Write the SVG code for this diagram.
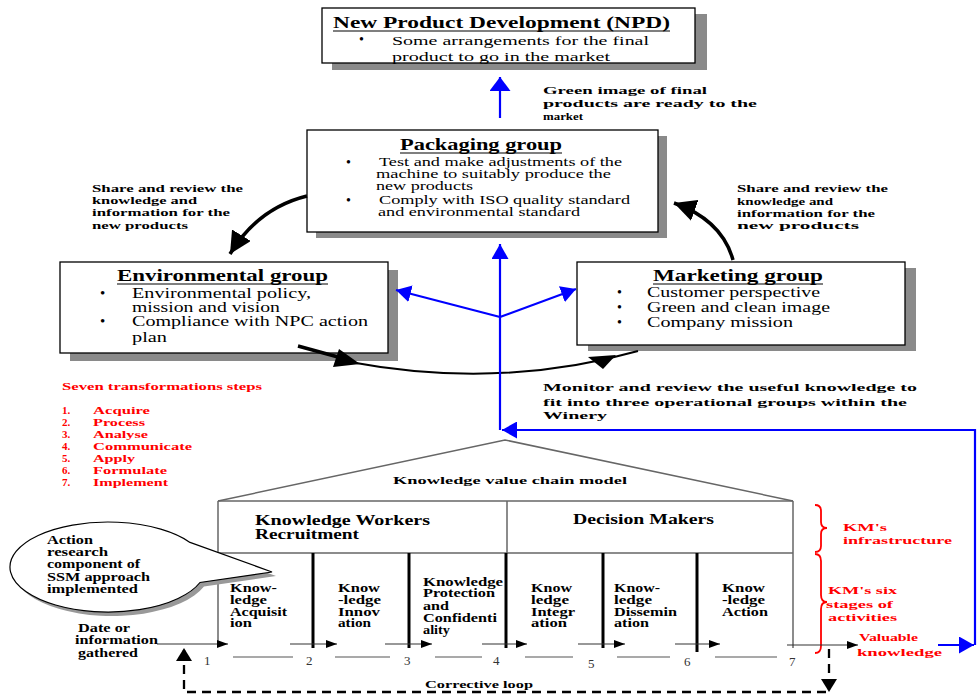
<svg xmlns="http://www.w3.org/2000/svg" width="979" height="695" viewBox="0 0 979 695">
  <style>
    text { font-family: "Liberation Serif", Tinos, "Times New Roman", serif; fill: #000; }
    .b { font-weight: bold; }
    .red { fill: #ff0000; }
    .num { font-size: 13px; fill: #333; }
    .box { fill: #fff; stroke: #000; stroke-width: 1.3; }
    .shadow { fill: #8a8a8a; }
    .title { font-size: 16px; font-weight: bold; }
    .ul { stroke: #000; stroke-width: 1.2; }
    .note { font-size: 11px; font-weight: bold; }
    .stage { font-size: 11.5px; font-weight: bold; }
    .body { font-size: 12px; }
    .blue { stroke: #0000ff; stroke-width: 2.2; fill: none; }
    .curve { stroke: #000; fill: none; }
    .frame { stroke: #666; stroke-width: 1.5; fill: none; }
    .div { stroke: #000; stroke-width: 3; }
    .flow { stroke: #333; stroke-width: 1.2; fill: none; }
    .tick { stroke: #555; stroke-width: 1.2; }
    .dash { stroke: #000; stroke-width: 2.3; stroke-dasharray: 9 6; fill: none; }
    .brace { stroke: #ff0000; stroke-width: 1.8; fill: none; }
  </style>
  <defs>
    <marker id="ab" markerUnits="userSpaceOnUse" markerWidth="15" markerHeight="17" refX="15" refY="8.5" orient="auto">
      <path d="M0,0 L15,8.5 L0,17 z" fill="#0000ff"/>
    </marker>
    <marker id="abw" markerUnits="userSpaceOnUse" markerWidth="14" markerHeight="21" refX="14" refY="10.5" orient="auto">
      <path d="M0,0 L14,10.5 L0,21 z" fill="#0000ff"/>
    </marker>
    <marker id="ak" markerUnits="userSpaceOnUse" markerWidth="22" markerHeight="22" refX="22" refY="11" orient="auto">
      <path d="M0,0 L22,11 L0,22 z" fill="#000"/>
    </marker>
    <marker id="as" markerUnits="userSpaceOnUse" markerWidth="11" markerHeight="8" refX="11" refY="4" orient="auto">
      <path d="M0,0 L11,4 L0,8 z" fill="#000"/>
    </marker>
    <marker id="ad" markerUnits="userSpaceOnUse" markerWidth="13" markerHeight="16" refX="13" refY="8" orient="auto">
      <path d="M0,0 L13,8 L0,16 z" fill="#000"/>
    </marker>
  </defs>

  <rect width="979" height="695" fill="#fff"/>

  <!-- New Product Development -->
  <g id="npd">
    <rect class="shadow" x="332" y="14" width="375" height="56"/>
    <rect class="box" x="322" y="8" width="373" height="55"/>
    <text class="title" x="333" y="28" textLength="337" lengthAdjust="spacingAndGlyphs">New Product Development (NPD)</text>
    <line class="ul" x1="333" y1="31" x2="670" y2="31"/>
    <text x="359" y="44" font-size="14">•</text>
    <text x="392" y="45" font-size="13" textLength="257" lengthAdjust="spacingAndGlyphs">Some arrangements for the final</text>
    <text x="392" y="61" font-size="13" textLength="218" lengthAdjust="spacingAndGlyphs">product to go in the market</text>
  </g>

  <!-- Packaging group -->
  <g id="packaging">
    <rect class="shadow" x="316" y="136" width="351" height="102"/>
    <rect class="box" x="307" y="130" width="351" height="102"/>
    <text class="title" x="400" y="150" textLength="162" lengthAdjust="spacingAndGlyphs">Packaging group</text>
    <line class="ul" x1="400" y1="153" x2="562" y2="153"/>
    <text x="346" y="167" font-size="14">•</text>
    <text class="body" x="379" y="166" textLength="243" lengthAdjust="spacingAndGlyphs">Test and make adjustments of the</text>
    <text class="body" x="376" y="178" textLength="235" lengthAdjust="spacingAndGlyphs">machine to suitably produce the</text>
    <text class="body" x="376" y="190" textLength="97" lengthAdjust="spacingAndGlyphs">new products</text>
    <text x="346" y="205" font-size="14">•</text>
    <text class="body" x="379" y="204" textLength="251" lengthAdjust="spacingAndGlyphs">Comply with ISO quality standard</text>
    <text class="body" x="378" y="216" textLength="202" lengthAdjust="spacingAndGlyphs">and environmental standard</text>
  </g>

  <!-- Environmental group -->
  <g id="environmental">
    <rect class="shadow" x="70" y="270" width="328" height="91"/>
    <rect class="box" x="60" y="262" width="328" height="91"/>
    <text class="title" x="117" y="281" textLength="211" lengthAdjust="spacingAndGlyphs">Environmental group</text>
    <line class="ul" x1="117" y1="284" x2="328" y2="284"/>
    <text x="100" y="298" font-size="15">•</text>
    <text x="132" y="298" font-size="15" textLength="179" lengthAdjust="spacingAndGlyphs">Environmental policy,</text>
    <text x="132" y="312" font-size="15" textLength="148" lengthAdjust="spacingAndGlyphs">mission and vision</text>
    <text x="100" y="326" font-size="15">•</text>
    <text x="132" y="326" font-size="15" textLength="236" lengthAdjust="spacingAndGlyphs">Compliance with NPC action</text>
    <text x="132" y="342" font-size="15" textLength="35" lengthAdjust="spacingAndGlyphs">plan</text>
  </g>

  <!-- Marketing group -->
  <g id="marketing">
    <rect class="shadow" x="588" y="268" width="328" height="83"/>
    <rect class="box" x="577" y="262" width="328" height="83"/>
    <text class="title" x="653" y="281" textLength="170" lengthAdjust="spacingAndGlyphs">Marketing group</text>
    <line class="ul" x1="653" y1="284" x2="823" y2="284"/>
    <text x="617" y="297" font-size="14">•</text>
    <text x="647" y="297" font-size="14.5" textLength="173" lengthAdjust="spacingAndGlyphs">Customer perspective</text>
    <text x="617" y="312" font-size="14">•</text>
    <text x="647" y="312" font-size="14.5" textLength="183" lengthAdjust="spacingAndGlyphs">Green and clean image</text>
    <text x="617" y="327" font-size="14">•</text>
    <text x="647" y="327" font-size="14.5" textLength="146" lengthAdjust="spacingAndGlyphs">Company mission</text>
  </g>

  <!-- Annotations around the group cycle -->
  <g id="cycle-notes">
    <text class="note" x="543" y="94" font-size="12.5" textLength="164" lengthAdjust="spacingAndGlyphs">Green image of final</text>
    <text class="note" x="543" y="107" font-size="12.5" textLength="214" lengthAdjust="spacingAndGlyphs">products are ready to the</text>
    <text class="note" x="543" y="120" font-size="12.5" textLength="40" lengthAdjust="spacingAndGlyphs">market</text>

    <text class="note" x="92" y="192" textLength="151" lengthAdjust="spacingAndGlyphs">Share and review the</text>
    <text class="note" x="92" y="204" textLength="105" lengthAdjust="spacingAndGlyphs">knowledge and</text>
    <text class="note" x="92" y="216" textLength="138" lengthAdjust="spacingAndGlyphs">information for the</text>
    <text class="note" x="92" y="229" textLength="96" lengthAdjust="spacingAndGlyphs">new products</text>

    <text class="note" x="737" y="192" textLength="151" lengthAdjust="spacingAndGlyphs">Share and review the</text>
    <text class="note" x="737" y="205" textLength="96" lengthAdjust="spacingAndGlyphs">knowledge and</text>
    <text class="note" x="737" y="217" textLength="138" lengthAdjust="spacingAndGlyphs">information for the</text>
    <text class="note" x="737" y="229" textLength="122" lengthAdjust="spacingAndGlyphs">new products</text>

    <text class="note" x="543" y="391" font-size="13" textLength="374" lengthAdjust="spacingAndGlyphs">Monitor and review the useful knowledge to</text>
    <text class="note" x="543" y="406" font-size="13" textLength="364" lengthAdjust="spacingAndGlyphs">fit into three operational groups within the</text>
    <text class="note" x="543" y="419" font-size="13" textLength="64" lengthAdjust="spacingAndGlyphs">Winery</text>
  </g>

  <!-- Seven transformation steps -->
  <g id="steps">
    <text class="note red" x="62" y="390" textLength="200" lengthAdjust="spacingAndGlyphs">Seven transformations steps</text>
    <text class="note red" x="62" y="414">1.</text>
    <text class="note red" x="93" y="414" textLength="57" lengthAdjust="spacingAndGlyphs">Acquire</text>
    <text class="note red" x="62" y="426">2.</text>
    <text class="note red" x="93" y="426" textLength="52" lengthAdjust="spacingAndGlyphs">Process</text>
    <text class="note red" x="62" y="438">3.</text>
    <text class="note red" x="93" y="438" textLength="55" lengthAdjust="spacingAndGlyphs">Analyse</text>
    <text class="note red" x="62" y="450">4.</text>
    <text class="note red" x="93" y="450" textLength="99" lengthAdjust="spacingAndGlyphs">Communicate</text>
    <text class="note red" x="62" y="462">5.</text>
    <text class="note red" x="93" y="462" textLength="42" lengthAdjust="spacingAndGlyphs">Apply</text>
    <text class="note red" x="62" y="474">6.</text>
    <text class="note red" x="93" y="474" textLength="74" lengthAdjust="spacingAndGlyphs">Formulate</text>
    <text class="note red" x="62" y="486">7.</text>
    <text class="note red" x="93" y="486" textLength="75" lengthAdjust="spacingAndGlyphs">Implement</text>
  </g>

  <!-- Knowledge value chain model -->
  <g id="value-chain">
    <polyline class="frame" points="218,501 505,440 793,501"/>
    <line class="frame" x1="218" y1="501" x2="793" y2="501"/>
    <line class="frame" x1="218" y1="553" x2="793" y2="553"/>
    <line class="frame" x1="218" y1="501" x2="218" y2="646"/>
    <line class="frame" x1="793" y1="501" x2="793" y2="648"/>
    <line class="frame" x1="507" y1="501" x2="507" y2="553"/>
    <line class="div" x1="313" y1="553" x2="313" y2="648"/>
    <line class="div" x1="409" y1="553" x2="409" y2="648"/>
    <line class="div" x1="506" y1="553" x2="506" y2="648"/>
    <line class="div" x1="603" y1="553" x2="603" y2="648"/>
    <line class="div" x1="697" y1="553" x2="697" y2="652"/>

    <text class="note" x="393" y="484" font-size="12" textLength="234" lengthAdjust="spacingAndGlyphs">Knowledge value chain model</text>
    <text class="b" x="255" y="525" font-size="14" textLength="175" lengthAdjust="spacingAndGlyphs">Knowledge Workers</text>
    <text class="b" x="255" y="539" font-size="14" textLength="104" lengthAdjust="spacingAndGlyphs">Recruitment</text>
    <text class="b" x="573" y="524" font-size="14" textLength="141" lengthAdjust="spacingAndGlyphs">Decision Makers</text>

    <text class="stage" x="230" y="592" textLength="47" lengthAdjust="spacingAndGlyphs">Know-</text>
    <text class="stage" x="230" y="604" textLength="37" lengthAdjust="spacingAndGlyphs">ledge</text>
    <text class="stage" x="230" y="616" textLength="57" lengthAdjust="spacingAndGlyphs">Acquisit</text>
    <text class="stage" x="230" y="627" textLength="22" lengthAdjust="spacingAndGlyphs">ion</text>

    <text class="stage" x="338" y="592" textLength="42" lengthAdjust="spacingAndGlyphs">Know</text>
    <text class="stage" x="338" y="604" textLength="43" lengthAdjust="spacingAndGlyphs">-ledge</text>
    <text class="stage" x="338" y="616" textLength="42" lengthAdjust="spacingAndGlyphs">Innov</text>
    <text class="stage" x="338" y="627" textLength="33" lengthAdjust="spacingAndGlyphs">ation</text>

    <text class="stage" x="423" y="586" textLength="80" lengthAdjust="spacingAndGlyphs">Knowledge</text>
    <text class="stage" x="423" y="597" textLength="72" lengthAdjust="spacingAndGlyphs">Protection</text>
    <text class="stage" x="423" y="610" textLength="26" lengthAdjust="spacingAndGlyphs">and</text>
    <text class="stage" x="423" y="622" textLength="74" lengthAdjust="spacingAndGlyphs">Confidenti</text>
    <text class="stage" x="423" y="634" textLength="27" lengthAdjust="spacingAndGlyphs">ality</text>

    <text class="stage" x="531" y="592" textLength="41" lengthAdjust="spacingAndGlyphs">Know</text>
    <text class="stage" x="531" y="604" textLength="38" lengthAdjust="spacingAndGlyphs">ledge</text>
    <text class="stage" x="531" y="616" textLength="44" lengthAdjust="spacingAndGlyphs">Integr</text>
    <text class="stage" x="531" y="627" textLength="36" lengthAdjust="spacingAndGlyphs">ation</text>

    <text class="stage" x="614" y="592" textLength="46" lengthAdjust="spacingAndGlyphs">Know-</text>
    <text class="stage" x="614" y="604" textLength="38" lengthAdjust="spacingAndGlyphs">ledge</text>
    <text class="stage" x="614" y="616" textLength="63" lengthAdjust="spacingAndGlyphs">Dissemin</text>
    <text class="stage" x="614" y="627" textLength="35" lengthAdjust="spacingAndGlyphs">ation</text>

    <text class="stage" x="722" y="592" textLength="43" lengthAdjust="spacingAndGlyphs">Know</text>
    <text class="stage" x="722" y="604" textLength="43" lengthAdjust="spacingAndGlyphs">-ledge</text>
    <text class="stage" x="722" y="616" textLength="46" lengthAdjust="spacingAndGlyphs">Action</text>

    <line class="tick" x1="233" y1="657" x2="293" y2="657"/>
    <line class="tick" x1="335" y1="657" x2="390" y2="657"/>
    <line class="tick" x1="435" y1="657" x2="482" y2="657"/>
    <line class="tick" x1="525" y1="657" x2="573" y2="657"/>
    <line class="tick" x1="617" y1="657" x2="670" y2="657"/>
    <line class="tick" x1="715" y1="657" x2="777" y2="657"/>
    <text class="num" x="204" y="665">1</text>
    <text class="num" x="306" y="665">2</text>
    <text class="num" x="404" y="665">3</text>
    <text class="num" x="493" y="665">4</text>
    <text class="num" x="588" y="668">5</text>
    <text class="num" x="684" y="666">6</text>
    <text class="num" x="789" y="666">7</text>
  </g>

  <!-- KM labels -->
  <g id="km-labels">
    <path class="brace" d="M815 505 Q821 505 821 511 L821 522 Q821 528 827 528 Q821 528 821 534 L821 546 Q821 552 815 552"/>
    <path class="brace" d="M815 554 Q821 554 821 561 L821 595 Q821 602 827 602 Q821 602 821 609 L821 646 Q821 653 815 653"/>
    <text class="note red" x="843" y="531" font-size="12" textLength="44" lengthAdjust="spacingAndGlyphs">KM's</text>
    <text class="note red" x="843" y="544" font-size="12" textLength="109" lengthAdjust="spacingAndGlyphs">infrastructure</text>
    <text class="note red" x="828" y="594" font-size="12" textLength="69" lengthAdjust="spacingAndGlyphs">KM's six</text>
    <text class="note red" x="826" y="608" font-size="12" textLength="67" lengthAdjust="spacingAndGlyphs">stages of</text>
    <text class="note red" x="828" y="621" font-size="12" textLength="69" lengthAdjust="spacingAndGlyphs">activities</text>
    <text class="note red" x="859" y="641" font-size="12" textLength="59" lengthAdjust="spacingAndGlyphs">Valuable</text>
    <text class="note red" x="857" y="656" font-size="12" textLength="85" lengthAdjust="spacingAndGlyphs">knowledge</text>
  </g>

  <!-- Action research callout -->
  <g id="callout">
    <path d="M190 542.4 L272 572 L200 582.5 A98 45 0 1 1 190 542.4 Z" fill="#999" transform="translate(4,4)"/>
    <path d="M190 542.4 L272 572 L200 582.5 A98 45 0 1 1 190 542.4 Z" fill="#fff" stroke="#000" stroke-width="1.2"/>
    <text class="stage" x="47" y="544" font-size="11.5" textLength="46" lengthAdjust="spacingAndGlyphs">Action</text>
    <text class="stage" x="47" y="556" font-size="11.5" textLength="61" lengthAdjust="spacingAndGlyphs">research</text>
    <text class="stage" x="47" y="568" font-size="11.5" textLength="93" lengthAdjust="spacingAndGlyphs">component of</text>
    <text class="stage" x="47" y="581" font-size="11.5" textLength="103" lengthAdjust="spacingAndGlyphs">SSM approach</text>
    <text class="stage" x="47" y="593" font-size="11.5" textLength="91" lengthAdjust="spacingAndGlyphs">implemented</text>
  </g>

  <!-- Input label -->
  <g id="input">
    <text class="stage" x="78" y="632" font-size="11.5" textLength="52" lengthAdjust="spacingAndGlyphs">Date or</text>
    <text class="stage" x="75" y="644" font-size="11.5" textLength="83" lengthAdjust="spacingAndGlyphs">information</text>
    <text class="stage" x="78" y="657" font-size="11.5" textLength="60" lengthAdjust="spacingAndGlyphs">gathered</text>
  </g>

  <!-- Connectors -->
  <g id="connectors">
    <!-- group cycle -->
    <path class="curve" stroke-width="3.5" d="M307 196 Q258 208 230 254" marker-end="url(#ak)"/>
    <path class="curve" stroke-width="3.5" d="M733 260 Q722 220 674 203" marker-end="url(#ak)"/>
    <path class="curve" stroke-width="3.5" d="M298 346 L338 357"/>
    <polygon points="339,349 360,364 333,367" fill="#000"/>
    <path class="curve" stroke-width="2" d="M350 362 Q500 390 638 351"/>
    <polygon points="588,357 616,355 603,369" fill="#000"/>

    <!-- knowledge feedback (blue) -->
    <path class="blue" d="M500 118 V77" marker-end="url(#abw)"/>
    <path class="blue" d="M500 430 V244" marker-end="url(#ab)"/>
    <path class="blue" d="M500 317 L396 290" marker-end="url(#ab)"/>
    <path class="blue" d="M500 317 L576 289" marker-end="url(#ab)"/>
    <path class="blue" d="M975 645 V430 H502" marker-end="url(#ab)"/>
    <path class="blue" stroke-width="1.6" d="M938 645 H974" marker-end="url(#ab)"/>

    <!-- stage flow -->
    <path class="flow" d="M157 644 H228" marker-end="url(#as)"/>
    <path class="flow" d="M290 644 H337" marker-end="url(#as)"/>
    <path class="flow" d="M385 644 H432" marker-end="url(#as)"/>
    <path class="flow" d="M482 644 H527" marker-end="url(#as)"/>
    <path class="flow" d="M578 644 H625" marker-end="url(#as)"/>
    <path class="flow" d="M675 644 H720" marker-end="url(#as)"/>
    <path class="flow" d="M787 645 H858" marker-end="url(#as)"/>

    <!-- corrective loop -->
    <path class="dash" d="M829 649 V692" marker-end="url(#ad)"/>
    <path class="dash" d="M826 692 H184 V648" marker-end="url(#ad)"/>
  </g>
  <text class="note" x="425" y="688" font-size="12" textLength="108" lengthAdjust="spacingAndGlyphs">Corrective loop</text>
</svg>
